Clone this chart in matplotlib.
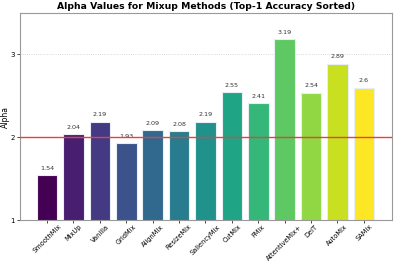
import matplotlib
matplotlib.use("Agg")
import matplotlib.pyplot as plt
import numpy as np

methods = ["SmoothMix", "MixUp", "Vanilla", "GridMix", "AlignMix", "ResizeMix",
           "SaliencyMix", "CutMix", "FMix", "AttentiveMix+", "DeiT", "AutoMix", "SAMix"]
alphas = [1.54, 2.04, 2.19, 1.93, 2.09, 2.08, 2.19, 2.55, 2.41, 3.19, 2.54, 2.89, 2.6]

colors = plt.cm.viridis(np.linspace(0, 1, len(methods)))

fig = plt.figure(figsize=(3.95, 2.62), dpi=100)
ax = fig.add_axes([0.051, 0.16, 0.941, 0.79])

x = np.arange(len(methods))
ax.bar(x, alphas, color=colors, edgecolor="#e8eef5", linewidth=0.8, width=0.78, zorder=2)
for xi, v in zip(x, alphas):
    ax.text(xi, v + 0.05, str(v), ha="center", va="bottom", fontsize=4.6, color="#333333")

ax.axhline(2, color="#f03c3c", linewidth=1.0, zorder=3)
ax.set_ylim(1, 3.5)
ax.set_xlim(-1.02, 13.06)
ax.set_yticks([1, 2, 3])
ax.yaxis.grid(True, linestyle=":", color="#cccccc", linewidth=0.6, zorder=0)
ax.set_xticks(x)
ax.set_xticklabels(methods, rotation=45, ha="center", fontsize=4.8)
ax.tick_params(axis="y", labelsize=5.0, length=2, width=0.5, pad=2)
ax.tick_params(axis="x", length=2, width=0.5, pad=0.5)
ax.set_ylabel("Alpha", fontsize=5.5)
ax.yaxis.set_label_coords(-0.028, 0.5)
ax.set_title("Alpha Values for Mixup Methods (Top-1 Accuracy Sorted)", fontsize=6.7, fontweight="bold", pad=3)
for s in ax.spines.values():
    s.set_color("#999999")
    s.set_linewidth(0.8)

fig.savefig("out.png", dpi=100)
